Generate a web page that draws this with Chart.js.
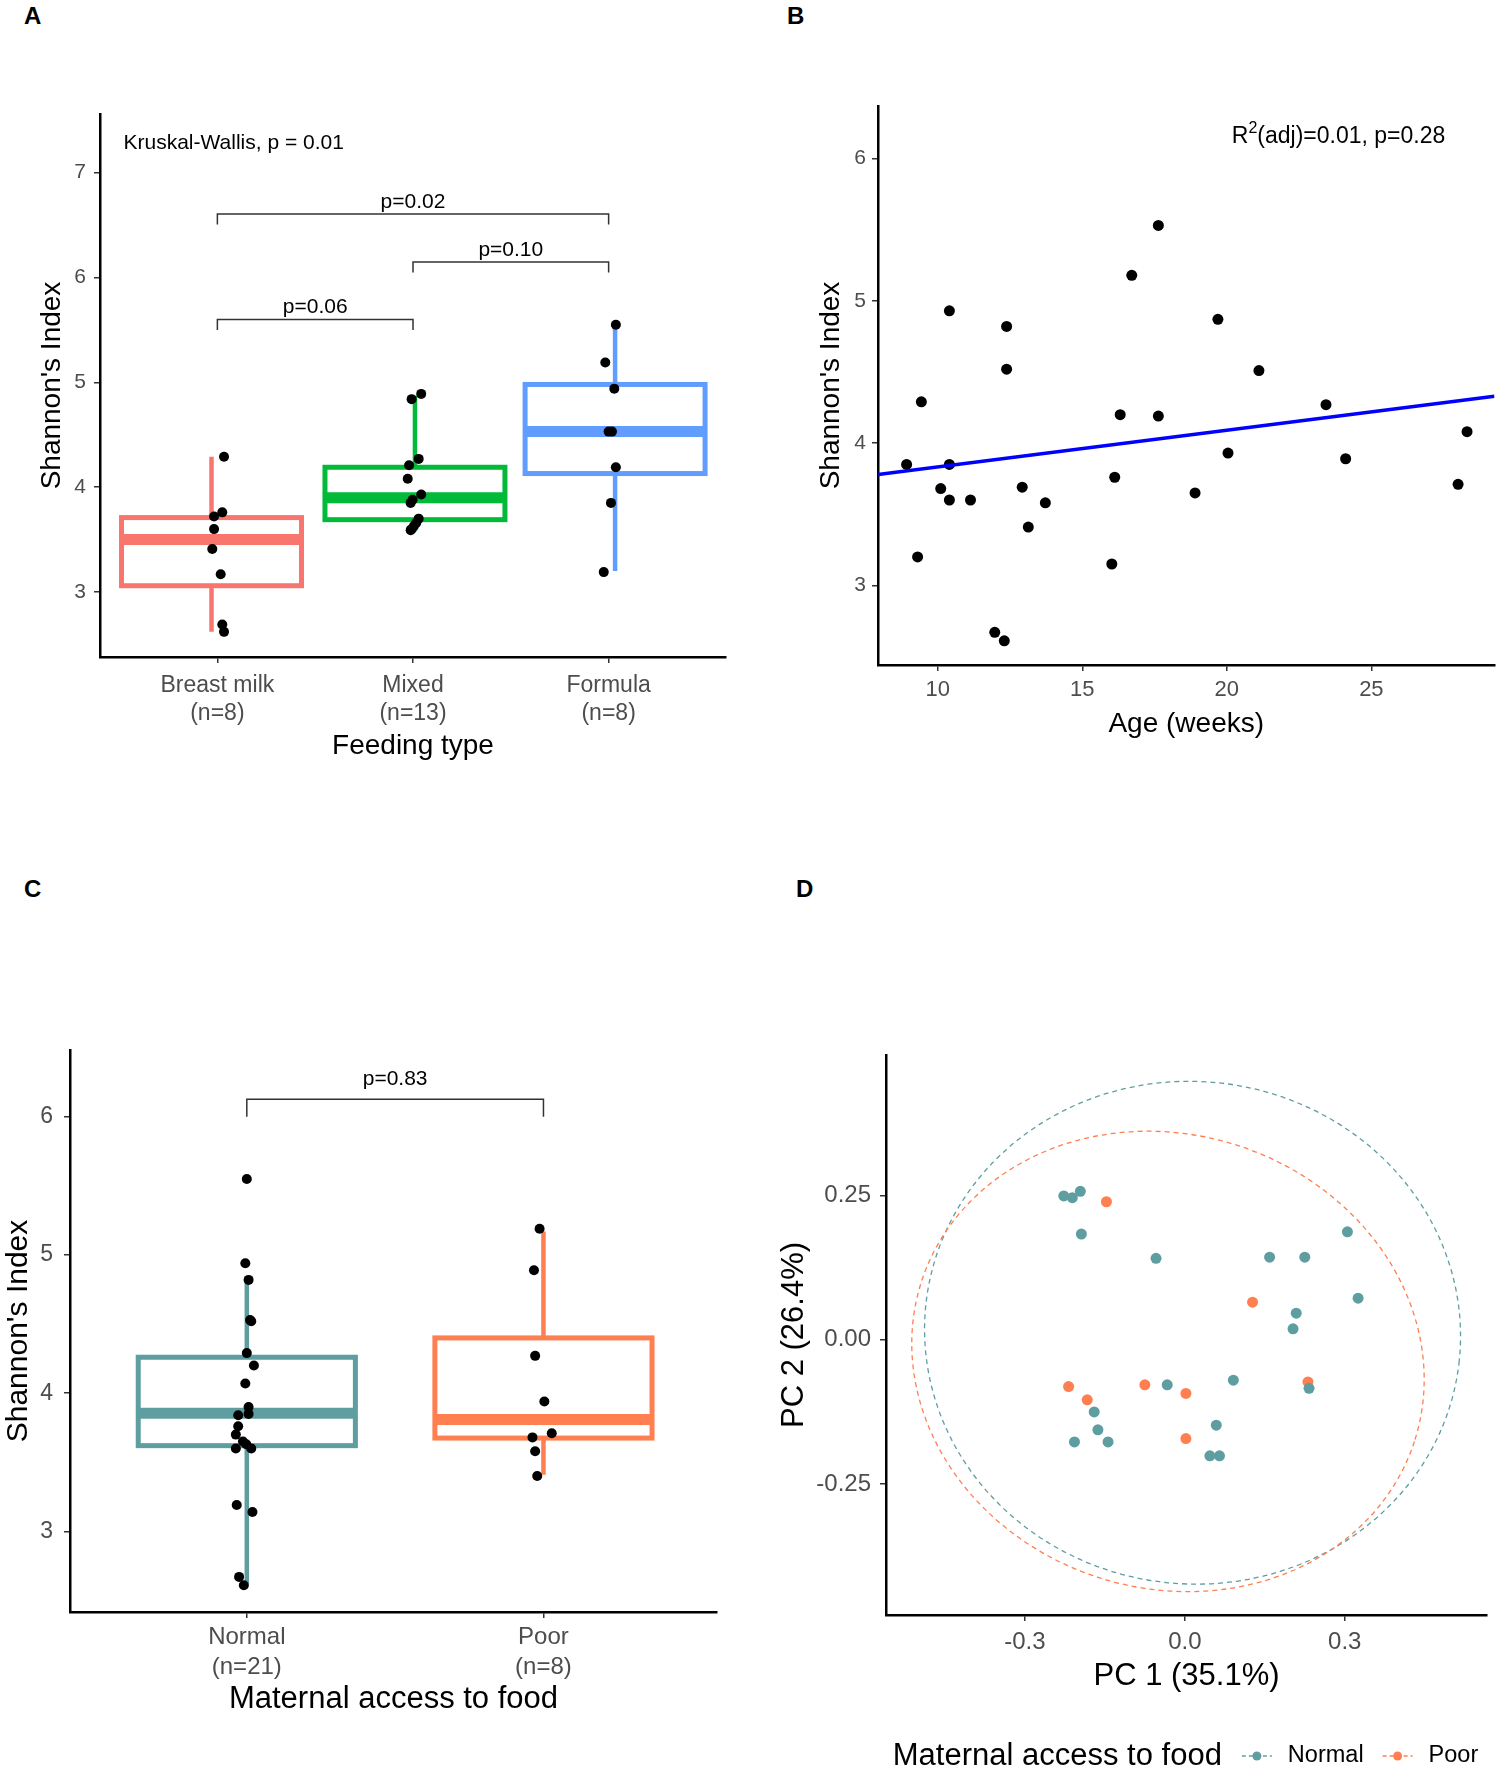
<!DOCTYPE html>
<html>
<head>
<meta charset="utf-8">
<script src="https://cdn.jsdelivr.net/npm/chart.js@4.4.1/dist/chart.umd.min.js"></script>
<style>
  body { margin: 0; background: #fff; }
  #page { position: relative; width: 1500px; height: 1780px; background: #fff; font-family: "Liberation Sans", Arial, sans-serif; }
  canvas { position: absolute; }
  .tag { position: absolute; font-weight: bold; font-size: 24px; line-height: 24px; color: #000; }
</style>
</head>
<body>
<div id="page">
  <div class="tag" style="left:24px; top:4px">A</div>
  <div class="tag" style="left:787px; top:4px">B</div>
  <div class="tag" style="left:24px; top:877px">C</div>
  <div class="tag" style="left:796px; top:877px">D</div>
  <canvas id="chartA" width="740" height="680" style="left:0px; top:100px"></canvas>
  <canvas id="chartB" width="720" height="690" style="left:780px; top:90px"></canvas>
  <canvas id="chartC" width="740" height="710" style="left:0px; top:1030px"></canvas>
  <canvas id="chartD" width="730" height="740" style="left:770px; top:1040px"></canvas>
</div>
<script>
// ---- A: feeding type ----
var feedLabels = [["Breast milk", "(n=8)"], ["Mixed", "(n=13)"], ["Formula", "(n=8)"]];
var feedColors = ["#F8766D", "#00BA38", "#619CFF"];
var feedPos = [0.97, 2.01, 3.033];
var feedLow = [2.62, 3.58, 3.20];
var feedQ1 = [3.06, 3.69, 4.13];
var feedMed = [3.50, 3.90, 4.53];
var feedQ3 = [3.71, 4.19, 4.98];
var feedHigh = [4.29, 4.87, 5.55];
var breastJit = [0.034, 0.025, -0.017, -0.017, -0.026, 0.017, 0.025, 0.034];
var breastVal = [4.29, 3.76, 3.72, 3.60, 3.41, 3.17, 2.69, 2.62];
var mixedJit = [-0.007, 0.042, 0.029, -0.02, -0.027, 0.042, -0.002, -0.012, 0.029, 0.017, 0.005, -0.012, -0.007];
var mixedVal = [4.84, 4.89, 4.27, 4.21, 4.08, 3.93, 3.88, 3.85, 3.70, 3.66, 3.63, 3.59, 3.60];
var formulaJit = [0.037, -0.017, 0.029, 0, 0.017, 0.037, 0.012, -0.025];
var formulaVal = [5.55, 5.19, 4.94, 4.53, 4.53, 4.19, 3.85, 3.19];
var feedPairFrom = [1, 2, 1];
var feedPairTo = [2, 3, 3];
var feedPairAt = [5.60, 6.147, 6.605];
var feedPairText = ["p=0.06", "p=0.10", "p=0.02"];

// ---- B: age ----
var ageWeeks = [8.92, 9.43, 9.30, 10.40, 10.40, 10.10, 10.40, 11.13, 11.97, 12.30, 12.38, 12.38, 12.92, 13.13, 13.72,
  16.02, 16.12, 16.31, 16.71, 17.63, 17.63, 18.90, 19.69, 20.04, 21.11, 23.43, 24.11, 28.00, 28.31];
var ageShannon = [3.85, 4.29, 3.20, 4.93, 3.85, 3.68, 3.60, 3.60, 2.67, 2.61, 4.82, 4.52, 3.69, 3.41, 3.58,
  3.15, 3.76, 4.20, 5.18, 5.53, 4.19, 3.65, 4.87, 3.93, 4.51, 4.27, 3.89, 3.71, 4.08];
var fitAge = [7.93, 29.26];
var fitShannon = [3.78, 4.33];

// ---- C: maternal access to food ----
var foodLabels = [["Normal", "(n=21)"], ["Poor", "(n=8)"]];
var foodColors = ["#5F9EA0", "#FF7F50"];
var foodPos = [1, 2];
var foodLow = [2.62, 3.41];
var foodQ1 = [3.62, 3.675];
var foodMed = [3.855, 3.81];
var foodQ3 = [4.26, 4.40];
var foodHigh = [4.82, 5.17];
var normalJit = [0, -0.005, 0.006, 0.011, 0.015, 0, 0.024, -0.005, 0.006, 0.006, -0.029, -0.029, -0.037, -0.013, -0.002, -0.037, 0.015, -0.034, 0.019, -0.026, -0.01];
var normalVal = [5.55, 4.94, 4.82, 4.53, 4.52, 4.29, 4.20, 4.07, 3.90, 3.85, 3.84, 3.76, 3.70, 3.65, 3.63, 3.60, 3.60, 3.19, 3.14, 2.67, 2.61];
var poorJit = [-0.013, -0.032, -0.028, 0.003, 0.028, -0.037, -0.028, -0.021];
var poorVal = [5.19, 4.89, 4.27, 3.94, 3.71, 3.68, 3.58, 3.40];

// ---- D: PCA ----
var pcNormalX = [-0.227, -0.211, -0.196, -0.194, -0.054, 0.159, 0.225, 0.305, 0.325, 0.209, 0.203, 0.091, 0.233, -0.033, 0.059, 0.047, 0.065, -0.170, -0.163, -0.144, -0.207];
var pcNormalY = [0.249, 0.246, 0.257, 0.183, 0.141, 0.143, 0.143, 0.187, 0.072, 0.046, 0.019, -0.070, -0.084, -0.078, -0.148, -0.201, -0.201, -0.125, -0.156, -0.177, -0.177];
var pcPoorX = [-0.147, 0.127, 0.231, -0.218, -0.183, -0.075, 0.002, 0.002];
var pcPoorY = [0.239, 0.065, -0.073, -0.081, -0.104, -0.078, -0.093, -0.171];
var groupNames = ["Normal", "Poor"];
var ellCx = [0.0145, -0.0316];
var ellCy = [0.0122, -0.0375];
var ellRx = [0.503, 0.486];
var ellRy = [0.435, 0.393];
var ellTilt = [6, 18];

Chart.defaults.font.family = "'Liberation Sans', Arial, sans-serif";
Chart.defaults.color = "#4D4D4D";
Chart.defaults.animation = false;

function fixTicks(values) {
  return function (scale) {
    scale.ticks = values.map(function (v) { return { value: v }; });
  };
}

function xAxis(o) {
  return {
    type: "linear", position: "bottom", min: o.min, max: o.max,
    afterBuildTicks: fixTicks(o.ticks),
    afterFit: function (s) {
      s.height = o.height;
      s.paddingLeft = 0; s.paddingRight = 0; s.paddingTop = 0; s.paddingBottom = 0;
    },
    grid: { display: true, drawOnChartArea: false, drawTicks: true, tickLength: 6, color: "#333", lineWidth: 1.5 },
    border: { display: true, color: "#000", width: 2.5 },
    ticks: { autoSkip: false, maxRotation: 0, padding: o.pad, color: "#4D4D4D", font: { size: o.fs, lineHeight: o.lh || 1.2 }, callback: o.cb },
    title: { display: true, text: o.title, color: "#000", font: { size: o.tfs, lineHeight: 1 }, padding: { top: 0, bottom: o.tpad } }
  };
}

function yAxis(o) {
  return {
    type: "linear", position: "left", min: o.min, max: o.max,
    afterBuildTicks: fixTicks(o.ticks),
    afterFit: function (s) {
      s.width = o.width;
      s.paddingLeft = 0; s.paddingRight = 0; s.paddingTop = 0; s.paddingBottom = 0;
    },
    grid: { display: true, drawOnChartArea: false, drawTicks: true, tickLength: 6, color: "#333", lineWidth: 1.5 },
    border: { display: true, color: "#000", width: 2.5 },
    ticks: { autoSkip: false, padding: o.pad, color: "#4D4D4D", font: { size: o.fs }, callback: o.cb },
    title: { display: true, text: o.title, color: "#000", font: { size: o.tfs, lineHeight: 1 }, padding: { top: o.tpad, bottom: 0 } }
  };
}

function jitterPoints(pos, jit, vals) {
  return vals.map(function (v, i) { return { x: pos + jit[i], y: v }; });
}

function boxPlugin(pos, low, q1, med, q3, high, colors, halfW) {
  return {
    id: "boxes",
    beforeDatasetsDraw: function (chart) {
      var ctx = chart.ctx, x = chart.scales.x, y = chart.scales.y;
      ctx.save();
      for (var i = 0; i < pos.length; i++) {
        var cx = x.getPixelForValue(pos[i]);
        var l = x.getPixelForValue(pos[i] - halfW), r = x.getPixelForValue(pos[i] + halfW);
        var top = y.getPixelForValue(q3[i]), bot = y.getPixelForValue(q1[i]);
        var m = y.getPixelForValue(med[i]);
        ctx.strokeStyle = colors[i];
        ctx.lineWidth = 4.5;
        ctx.beginPath();
        ctx.moveTo(cx, y.getPixelForValue(high[i]));
        ctx.lineTo(cx, top);
        ctx.moveTo(cx, bot);
        ctx.lineTo(cx, y.getPixelForValue(low[i]));
        ctx.stroke();
        ctx.fillStyle = "#fff";
        ctx.fillRect(l, top, r - l, bot - top);
        ctx.lineWidth = 5;
        ctx.strokeRect(l, top, r - l, bot - top);
        ctx.lineWidth = 11;
        ctx.beginPath();
        ctx.moveTo(l, m);
        ctx.lineTo(r, m);
        ctx.stroke();
      }
      ctx.restore();
    }
  };
}

function bracketPlugin(from, to, at, texts, drop, fs, gap) {
  return {
    id: "brackets",
    afterDatasetsDraw: function (chart) {
      var ctx = chart.ctx, x = chart.scales.x, y = chart.scales.y;
      ctx.save();
      ctx.strokeStyle = "#333";
      ctx.lineWidth = 1.5;
      ctx.fillStyle = "#000";
      ctx.font = fs + "px 'Liberation Sans', Arial, sans-serif";
      ctx.textAlign = "center";
      ctx.textBaseline = "alphabetic";
      for (var i = 0; i < from.length; i++) {
        var x1 = x.getPixelForValue(from[i]), x2 = x.getPixelForValue(to[i]);
        var yb = y.getPixelForValue(at[i]), yl = y.getPixelForValue(at[i] - drop);
        ctx.beginPath();
        ctx.moveTo(x1, yl);
        ctx.lineTo(x1, yb);
        ctx.lineTo(x2, yb);
        ctx.lineTo(x2, yl);
        ctx.stroke();
        ctx.fillText(texts[i], (x1 + x2) / 2, yb - gap);
      }
      ctx.restore();
    }
  };
}

function notePlugin(xv, yv, text, fs) {
  return {
    id: "note",
    afterDatasetsDraw: function (chart) {
      var ctx = chart.ctx;
      ctx.save();
      ctx.fillStyle = "#000";
      ctx.font = fs + "px 'Liberation Sans', Arial, sans-serif";
      ctx.textAlign = "left";
      ctx.textBaseline = "middle";
      ctx.fillText(text, chart.scales.x.getPixelForValue(xv), chart.scales.y.getPixelForValue(yv));
      ctx.restore();
    }
  };
}

// ---- chart A ----
var feedPoints = jitterPoints(1, breastJit, breastVal)
  .concat(jitterPoints(2, mixedJit, mixedVal))
  .concat(jitterPoints(3, formulaJit, formulaVal));

new Chart("chartA", {
  type: "scatter",
  data: {
    datasets: [{ data: feedPoints, pointRadius: 5, backgroundColor: "#000", borderWidth: 0 }]
  },
  options: {
    responsive: false,
    layout: { padding: { top: 14, right: 14, left: 0, bottom: 0 } },
    plugins: { legend: { display: false }, tooltip: { enabled: false } },
    scales: {
      x: xAxis({ min: 0.4, max: 3.6, ticks: [1, 2, 3], height: 123, pad: 9, fs: 23, lh: 1.2,
        cb: function (v) { return feedLabels[Math.round(v) - 1]; }, title: "Feeding type", tfs: 28, tpad: 20 }),
      y: yAxis({ min: 2.38, max: 7.56, ticks: [3, 4, 5, 6, 7], width: 100, pad: 8, fs: 21,
        cb: function (v) { return String(v); }, title: "Shannon's Index", tfs: 28, tpad: 38 })
    }
  },
  plugins: [
    boxPlugin(feedPos, feedLow, feedQ1, feedMed, feedQ3, feedHigh, feedColors, 0.46),
    bracketPlugin(feedPairFrom, feedPairTo, feedPairAt, feedPairText, 0.1, 21, 6),
    notePlugin(0.52, 7.278, "Kruskal-Wallis, p = 0.01", 21)
  ]
});

// ---- chart B ----
var agePoints = ageWeeks.map(function (a, i) { return { x: a, y: ageShannon[i] }; });
var fitLine = fitAge.map(function (a, i) { return { x: a, y: fitShannon[i] }; });

new Chart("chartB", {
  type: "scatter",
  data: {
    datasets: [
      { data: fitLine, showLine: true, pointRadius: 0, borderColor: "#0000FF", borderWidth: 3.5 },
      { data: agePoints, pointRadius: 5.5, backgroundColor: "#000", borderWidth: 0 }
    ]
  },
  options: {
    responsive: false,
    layout: { padding: { top: 16, right: 3, left: 0, bottom: 0 } },
    plugins: { legend: { display: false }, tooltip: { enabled: false } },
    scales: {
      x: xAxis({ min: 7.93, max: 29.26, ticks: [10, 15, 20, 25], height: 115, pad: 6, fs: 22,
        cb: function (v) { return String(v); }, title: "Age (weeks)", tfs: 28, tpad: 42 }),
      y: yAxis({ min: 2.44, max: 6.37, ticks: [3, 4, 5, 6], width: 98, pad: 6, fs: 21,
        cb: function (v) { return String(v); }, title: "Shannon's Index", tfs: 28, tpad: 37 })
    }
  },
  plugins: [{
    id: "r2note",
    afterDatasetsDraw: function (chart) {
      var ctx = chart.ctx;
      var px = chart.scales.x.getPixelForValue(20.17), py = chart.scales.y.getPixelForValue(6.113);
      ctx.save();
      ctx.fillStyle = "#000";
      ctx.textAlign = "left";
      ctx.textBaseline = "alphabetic";
      ctx.font = "23px 'Liberation Sans', Arial, sans-serif";
      ctx.fillText("R", px, py);
      var w = ctx.measureText("R").width;
      ctx.font = "16px 'Liberation Sans', Arial, sans-serif";
      ctx.fillText("2", px + w, py - 10);
      var w2 = ctx.measureText("2").width;
      ctx.font = "23px 'Liberation Sans', Arial, sans-serif";
      ctx.fillText("(adj)=0.01, p=0.28", px + w + w2, py);
      ctx.restore();
    }
  }]
});

// ---- chart C ----
var foodPoints = jitterPoints(1, normalJit, normalVal).concat(jitterPoints(2, poorJit, poorVal));

new Chart("chartC", {
  type: "scatter",
  data: {
    datasets: [{ data: foodPoints, pointRadius: 5, backgroundColor: "#000", borderWidth: 0 }]
  },
  options: {
    responsive: false,
    layout: { padding: { top: 20, right: 23, left: 0, bottom: 0 } },
    plugins: { legend: { display: false }, tooltip: { enabled: false } },
    scales: {
      x: xAxis({ min: 0.404, max: 2.585, ticks: [1, 2], height: 128, pad: 4, fs: 24, lh: 1.25,
        cb: function (v) { return foodLabels[Math.round(v) - 1]; }, title: "Maternal access to food", tfs: 31, tpad: 25 }),
      y: yAxis({ min: 2.416, max: 6.484, ticks: [3, 4, 5, 6], width: 70, pad: 11, fs: 23,
        cb: function (v) { return String(v); }, title: "Shannon's Index", tfs: 30, tpad: 4 })
    }
  },
  plugins: [
    boxPlugin(foodPos, foodLow, foodQ1, foodMed, foodQ3, foodHigh, foodColors, 0.366),
    bracketPlugin([1], [2], [6.127], ["p=0.83"], 0.127, 21, 14)
  ]
});

// ---- chart D ----
var normalPC = pcNormalX.map(function (v, i) { return { x: v, y: pcNormalY[i] }; });
var poorPC = pcPoorX.map(function (v, i) { return { x: v, y: pcPoorY[i] }; });

new Chart("chartD", {
  type: "scatter",
  data: {
    datasets: [
      { label: groupNames[0], data: normalPC, pointRadius: 5.5, backgroundColor: foodColors[0], borderWidth: 0 },
      { label: groupNames[1], data: poorPC, pointRadius: 5.5, backgroundColor: foodColors[1], borderWidth: 0 }
    ]
  },
  options: {
    responsive: false,
    layout: { padding: { top: 15, right: 13, left: 0, bottom: 80 } },
    plugins: { legend: { display: false }, tooltip: { enabled: false } },
    scales: {
      x: xAxis({ min: -0.5605, max: 0.5668, ticks: [-0.3, 0, 0.3], height: 85, pad: 6.5, fs: 24,
        cb: function (v) { return v.toFixed(1); }, title: "PC 1 (35.1%)", tfs: 31, tpad: 8.5 }),
      y: yAxis({ min: -0.4766, max: 0.4931, ticks: [-0.25, 0, 0.25], width: 116, pad: 9, fs: 24,
        cb: function (v) { return v.toFixed(2); }, title: "PC 2 (26.4%)", tfs: 31, tpad: 8.5 })
    }
  },
  plugins: [{
    id: "ellipses",
    beforeDatasetsDraw: function (chart) {
      var ctx = chart.ctx, x = chart.scales.x, y = chart.scales.y;
      ctx.save();
      ctx.lineWidth = 1.3;
      ctx.setLineDash([5, 4]);
      for (var i = 0; i < ellCx.length; i++) {
        var cx = x.getPixelForValue(ellCx[i]), cy = y.getPixelForValue(ellCy[i]);
        var rx = x.getPixelForValue(ellCx[i] + ellRx[i]) - cx;
        var ry = cy - y.getPixelForValue(ellCy[i] + ellRy[i]);
        ctx.strokeStyle = foodColors[i];
        ctx.beginPath();
        ctx.ellipse(cx, cy, rx, ry, ellTilt[i] * Math.PI / 180, 0, 2 * Math.PI);
        ctx.stroke();
      }
      ctx.restore();
    }
  }, {
    id: "pcLegend",
    afterDraw: function (chart) {
      var ctx = chart.ctx, area = chart.chartArea;
      var titleFont = "31px 'Liberation Sans', Arial, sans-serif";
      var itemFont = "23.5px 'Liberation Sans', Arial, sans-serif";
      ctx.save();
      ctx.font = titleFont;
      var tw = ctx.measureText("Maternal access to food").width;
      ctx.font = itemFont;
      var lw = groupNames.map(function (n) { return ctx.measureText(n).width; });
      var total = tw + 20 + 30 + 16 + lw[0] + 19 + 30 + 18 + lw[1];
      var x0 = (area.left + area.right) / 2 - total / 2;
      var yc = 716;
      ctx.textBaseline = "middle";
      ctx.textAlign = "left";
      ctx.fillStyle = "#000";
      ctx.font = titleFont;
      ctx.fillText("Maternal access to food", x0, yc);
      var kx = x0 + tw + 20;
      for (var i = 0; i < groupNames.length; i++) {
        ctx.strokeStyle = foodColors[i];
        ctx.lineWidth = 1.3;
        ctx.setLineDash([4, 3]);
        ctx.beginPath();
        ctx.moveTo(kx, yc);
        ctx.lineTo(kx + 30, yc);
        ctx.stroke();
        ctx.setLineDash([]);
        ctx.fillStyle = foodColors[i];
        ctx.beginPath();
        ctx.arc(kx + 15, yc, 4.5, 0, 2 * Math.PI);
        ctx.fill();
        ctx.fillStyle = "#000";
        ctx.font = itemFont;
        ctx.fillText(groupNames[i], kx + 30 + 16, yc);
        kx += 30 + 16 + lw[i] + 19;
      }
      ctx.restore();
    }
  }]
});
</script>
</body>
</html>
